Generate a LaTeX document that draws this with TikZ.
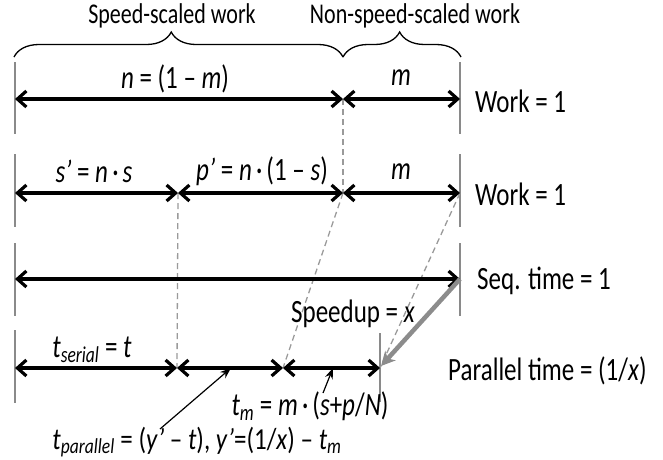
\documentclass[tikz,border=0pt]{standalone}
\usepackage{fontspec}
\setmainfont{Carlito}
\usetikzlibrary{arrows.meta,decorations.pathreplacing}
\definecolor{tickgray}{HTML}{8A8A8A}
\definecolor{dashgray}{HTML}{9A9A9A}
\definecolor{arrgray}{HTML}{8C8C8C}
\newcommand{\vstretch}[1]{\scalebox{1}[1.3]{#1}}
\newcommand{\vstretchb}[1]{\scalebox{1}[1.22]{#1}}
\begin{document}
\begin{tikzpicture}[x=1pt,y=-1pt,
  dimline/.style={line width=3.2pt,{Straight Barb[length=9pt,width=16pt]}-{Straight Barb[length=9pt,width=16pt]}},
  tickline/.style={draw=tickgray,line width=1.6pt},
  guide/.style={draw=dashgray,line width=1.3pt,dash pattern=on 6pt off 4pt},
  bracestyle/.style={draw=black,line width=1.3pt,decorate,decoration={brace,amplitude=25pt,raise=0pt}},
  toplbl/.style={font=\fontsize{22}{26}\selectfont,inner sep=0pt},
  lbl/.style={font=\fontsize{25}{30}\selectfont,inner sep=0pt},
  sidelbl/.style={font=\fontsize{25}{30}\selectfont,inner sep=0pt,anchor=west},
  pointer/.style={line width=1.2pt,-{Stealth[length=11pt,width=8pt]}},
  bigarrow/.style={draw=arrgray,line width=4.5pt,-{Stealth[length=14pt,width=14pt,inset=4pt]}}
]
\useasboundingbox (0,0) rectangle (663,459);

% coordinates
\coordinate (r1a) at (15,99);
\coordinate (r1b) at (343,99);
\coordinate (r1c) at (460,99);
\coordinate (r2a) at (15,193);
\coordinate (r2b) at (178,193);
\coordinate (r2c) at (343,193);
\coordinate (r2d) at (460,193);
\coordinate (r3a) at (15,279);
\coordinate (r3b) at (460,279);
\coordinate (r4a) at (15,368);
\coordinate (r4b) at (177,368);
\coordinate (r4c) at (283,368);
\coordinate (r4d) at (380,368);
\coordinate (p1) at (231,368);
\coordinate (p2) at (333,368);

% ticks
\draw[tickline] (15,62) -- (15,134);
\draw[tickline] (460,62) -- (460,134);
\draw[tickline] (15,154) -- (15,227);
\draw[tickline] (460,154) -- (460,227);
\draw[tickline] (15,243) -- (15,316);
\draw[tickline] (460,243) -- (460,316);
\draw[tickline] (15,330) -- (15,403);
\draw[tickline] (380,333) -- (380,402);

% dashed guides
\draw[guide] (r1b) -- (r2c);
\draw[guide] (r2b) -- (r4b);
\draw[guide] (r2c) -- (r4c);
\draw[guide] (r2d) -- (r4d);

% braces
\draw[bracestyle,decoration={aspect=0.478}] (14,57) -- (343,57);
\draw[bracestyle,decoration={aspect=0.48}] (343,57) -- (461,57);
\node[toplbl] (t1) at (172,16) {\vstretch{Speed-scaled work}};
\node[toplbl] (t2) at (415,16) {\vstretch{Non-speed-scaled work}};

% row 1
\draw[dimline] (r1a) -- (r1b);
\draw[dimline] (r1b) -- (r1c);
\node[lbl] (n1) at (175,79) {\vstretch{\textit{n} = (1 – \textit{m})}};
\node[lbl] (n2) at (401,78) {\vstretch{\textit{m}}};
\node[sidelbl] (w1) at (475,101) {\vstretch{Work = 1}};

% row 2
\draw[dimline] (r2a) -- (r2b);
\draw[dimline] (r2b) -- (r2c);
\draw[dimline] (r2c) -- (r2d);
\node[lbl] (s1) at (94,171) {\vstretch{\textit{s’} = \textit{n}\,·\,\textit{s}}};
\node[lbl] (s2) at (262,171) {\vstretch{\textit{p’} = \textit{n}\,·\,(1 – \textit{s})}};
\node[lbl] (s3) at (401,172) {\vstretch{\textit{m}}};
\node[sidelbl] (w2) at (475,194) {\vstretch{Work = 1}};

% row 3
\draw[dimline] (r3a) -- (r3b);
\node[sidelbl] (sq) at (477,281) {\vstretch{Seq. time = 1}};
\node[lbl] (su) at (353,314) {\vstretch{Speedup = \textit{x}}};
\draw[bigarrow] (r3b) -- (381,366);

% row 4
\draw[dimline] (r4a) -- (r4b);
\draw[dimline] (r4b) -- (r4c);
\draw[dimline] (r4c) -- (r4d);
\node[lbl] (ts) at (92,350) {\vstretch{\textit{t}\textsubscript{\textit{serial}} = \textit{t}}};
\node[sidelbl] (pt) at (448,371) {\vstretch{Parallel time = (1/\textit{x})}};
\node[lbl] (tm) at (310,406) {\vstretch{\textit{t}\textsubscript{\textit{m}} = \textit{m}\,·\,(\textit{s}+\textit{p}/\textit{N})}};
\node[lbl] (tp) at (197,442) {\vstretchb{\textit{t}\textsubscript{\textit{parallel}} = (\textit{y’} – \textit{t}), \textit{y’}=(1/\textit{x}) – \textit{t}\textsubscript{\textit{m}}}};
\draw[pointer] (160,429) -- (p1);
\draw[pointer] (323,393) -- (p2);
\end{tikzpicture}
\end{document}
